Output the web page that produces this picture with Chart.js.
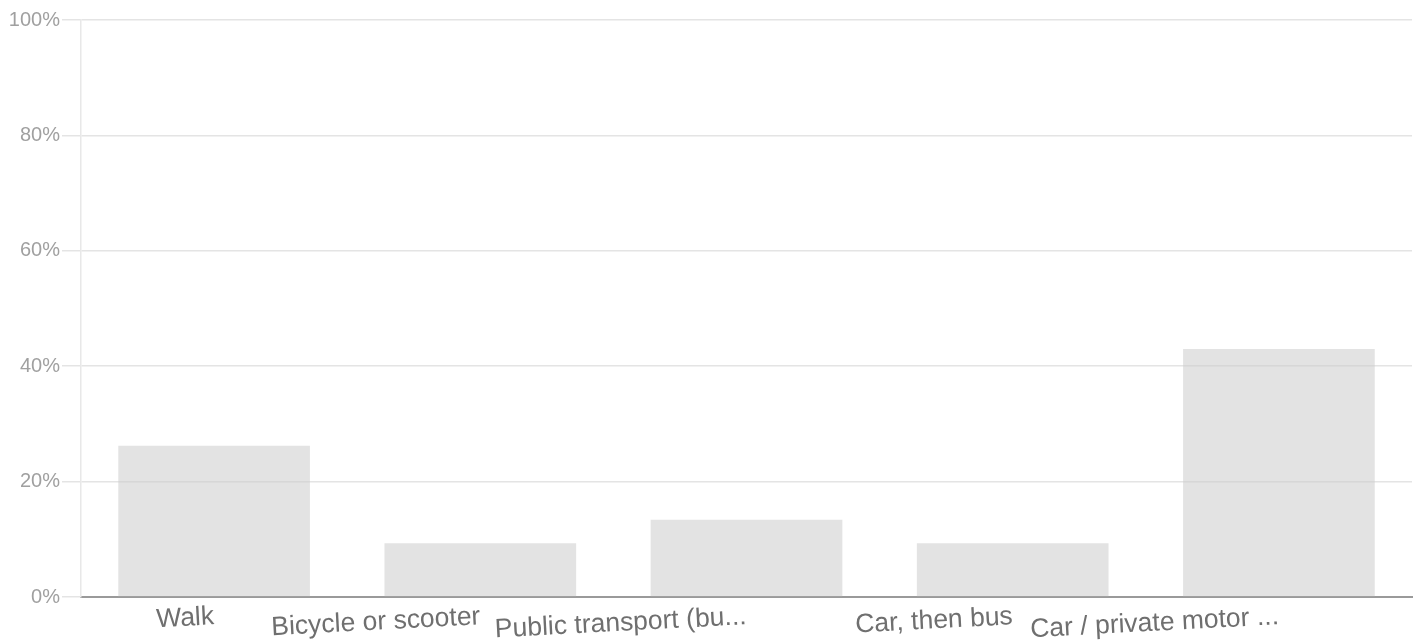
<!DOCTYPE html>
<html>
<head>
<meta charset="utf-8">
<script src="https://cdn.jsdelivr.net/npm/chart.js@4/dist/chart.umd.min.js"></script>
<style>
    html, body { margin: 0; padding: 0; background: #fff; }
    #wrap { width: 1420px; height: 642px; }
</style>
</head>
<body>
<div id="wrap"><canvas id="chart" width="1420" height="642"></canvas></div>
<script>
    const categories = ['Walk', 'Bicycle or scooter', 'Public transport (bu...', 'Car, then bus', 'Car / private motor ...'];
    const shares = [26.2, 9.3, 13.4, 9.3, 43.0];
    const yTicks = [0, 20, 40, 60, 80, 100];

    const ctx = document.getElementById('chart');
    const config = {
        type: 'bar',
        data: {
            labels: categories,
            datasets: [
                {
                    data: shares,
                    backgroundColor: 'rgba(204, 204, 204, 0.55)',
                    borderWidth: 0,
                    barPercentage: 0.72,
                    categoryPercentage: 1
                }
            ]
        },
        options: {
            responsive: false,
            maintainAspectRatio: false,
            animation: false,
            layout: {
                padding: { top: 20, right: 8, left: 0, bottom: 0 }
            },
            plugins: {
                legend: { display: false },
                tooltip: { enabled: false }
            },
            scales: {
                x: {
                    grid: { display: false, drawTicks: false },
                    border: { display: true, color: '#9a9a9a', width: 2 },
                    ticks: {
                        color: '#6f6f6f',
                        font: { family: 'Liberation Sans, Arial, sans-serif', size: 26.5 },
                        minRotation: 3,
                        maxRotation: 3,
                        autoSkip: false,
                        padding: 4
                    },
                    afterFit: (scale) => { scale.height = 45; }
                },
                y: {
                    min: 0,
                    max: 100,
                    afterBuildTicks: (scale) => { scale.ticks = yTicks.map(v => ({ value: v })); },
                    grid: { color: '#e4e4e4', lineWidth: 1.5, drawTicks: true, tickLength: 19 },
                    border: { display: true, color: '#e8e8e8', width: 1.5 },
                    ticks: {
                        color: '#a0a0a0',
                        font: { family: 'Liberation Sans, Arial, sans-serif', size: 20 },
                        padding: 2,
                        callback: (v) => v + '%'
                    },
                    afterFit: (scale) => { scale.width = 81; }
                }
            }
        }
    };

    const myChart = new Chart(ctx, config);
</script>
</body>
</html>
